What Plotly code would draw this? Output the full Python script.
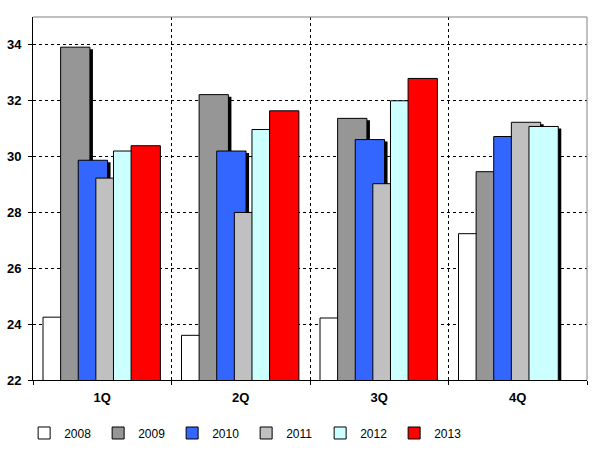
import plotly.graph_objects as go

quarters = ["1Q", "2Q", "3Q", "4Q"]
years = ["2008", "2009", "2010", "2011", "2012", "2013"]
v2008 = [24.25, 23.60, 24.22, 27.24]
v2009 = [33.92, 32.22, 31.37, 29.46]
v2010 = [29.87, 30.20, 30.61, 30.72]
v2011 = [29.23, 28.00, 29.03, 31.23]
v2012 = [30.20, 30.97, 32.00, 31.08]
v2013 = [30.39, 31.64, 32.80, None]
series = [v2008, v2009, v2010, v2011, v2012, v2013]
colors = ["#FFFFFF", "#969696", "#3366FF", "#C0C0C0", "#CCFFFF", "#FF0000"]
has_shadow = [True, True, True, True, True, False]

BAR_W = 0.2116
STEP = 0.1272
FIRST = -0.5 + 0.0722
SH_DX = 0.0217   # 3 px
SH_DY = 0.072    # 2 px

fig = go.Figure()
for i, (name, vals, col) in enumerate(zip(years, series, colors)):
    off = FIRST + i * STEP
    if has_shadow[i]:
        fig.add_trace(go.Bar(
            x=quarters, y=[None if v is None else v - SH_DY for v in vals],
            offset=off + SH_DX, width=BAR_W,
            marker=dict(color="black", line=dict(width=0)),
            showlegend=False, hoverinfo="skip"))
    fig.add_trace(go.Bar(
        x=quarters, y=vals, name=name, offset=off, width=BAR_W,
        marker=dict(color=col, line=dict(color="black", width=1))))

fig.update_layout(
    width=602, height=451,
    margin=dict(l=33, r=15, t=17, b=71, autoexpand=False),
    barmode="overlay",
    plot_bgcolor="white", paper_bgcolor="white",
    font=dict(family="Liberation Sans, Arial, sans-serif", color="black", size=12),
    legend=dict(orientation="h", x=-0.016, xanchor="left", y=-0.146, yanchor="middle",
                font=dict(size=12), entrywidth=29, entrywidthmode="pixels",
                traceorder="normal"),
    shapes=[
        dict(type="line", xref="paper", yref="paper", x0=0, x1=1, y0=1, y1=1,
             line=dict(color="#808080", width=1)),
        dict(type="line", xref="paper", yref="paper", x0=1, x1=1, y0=0, y1=1,
             line=dict(color="#808080", width=1)),
    ],
)
fig.update_xaxes(
    type="category", tickson="boundaries", automargin=False,
    showline=True, linecolor="black", linewidth=1,
    ticks="outside", ticklen=4, tickcolor="black", ticklabelstandoff=5,
    showgrid=True, gridcolor="black", griddash="3px,3px", gridwidth=1,
    tickfont=dict(size=13, family="Liberation Sans, Arial, sans-serif", weight="bold"),
    range=[-0.5, 3.5],
)
fig.update_yaxes(
    range=[22, 35], tick0=22, dtick=2, automargin=False,
    showline=True, linecolor="black", linewidth=1,
    ticks="outside", ticklen=4, tickcolor="black", ticklabelstandoff=4,
    showgrid=True, gridcolor="black", griddash="3px,3px", gridwidth=1,
    zeroline=False,
    tickfont=dict(size=13, family="Liberation Sans, Arial, sans-serif", weight="bold"),
)
fig.write_html(
    "out.html",
    config={"displayModeBar": False},
    post_script="document.body.style.margin='0';document.body.style.overflow='hidden';",
)
